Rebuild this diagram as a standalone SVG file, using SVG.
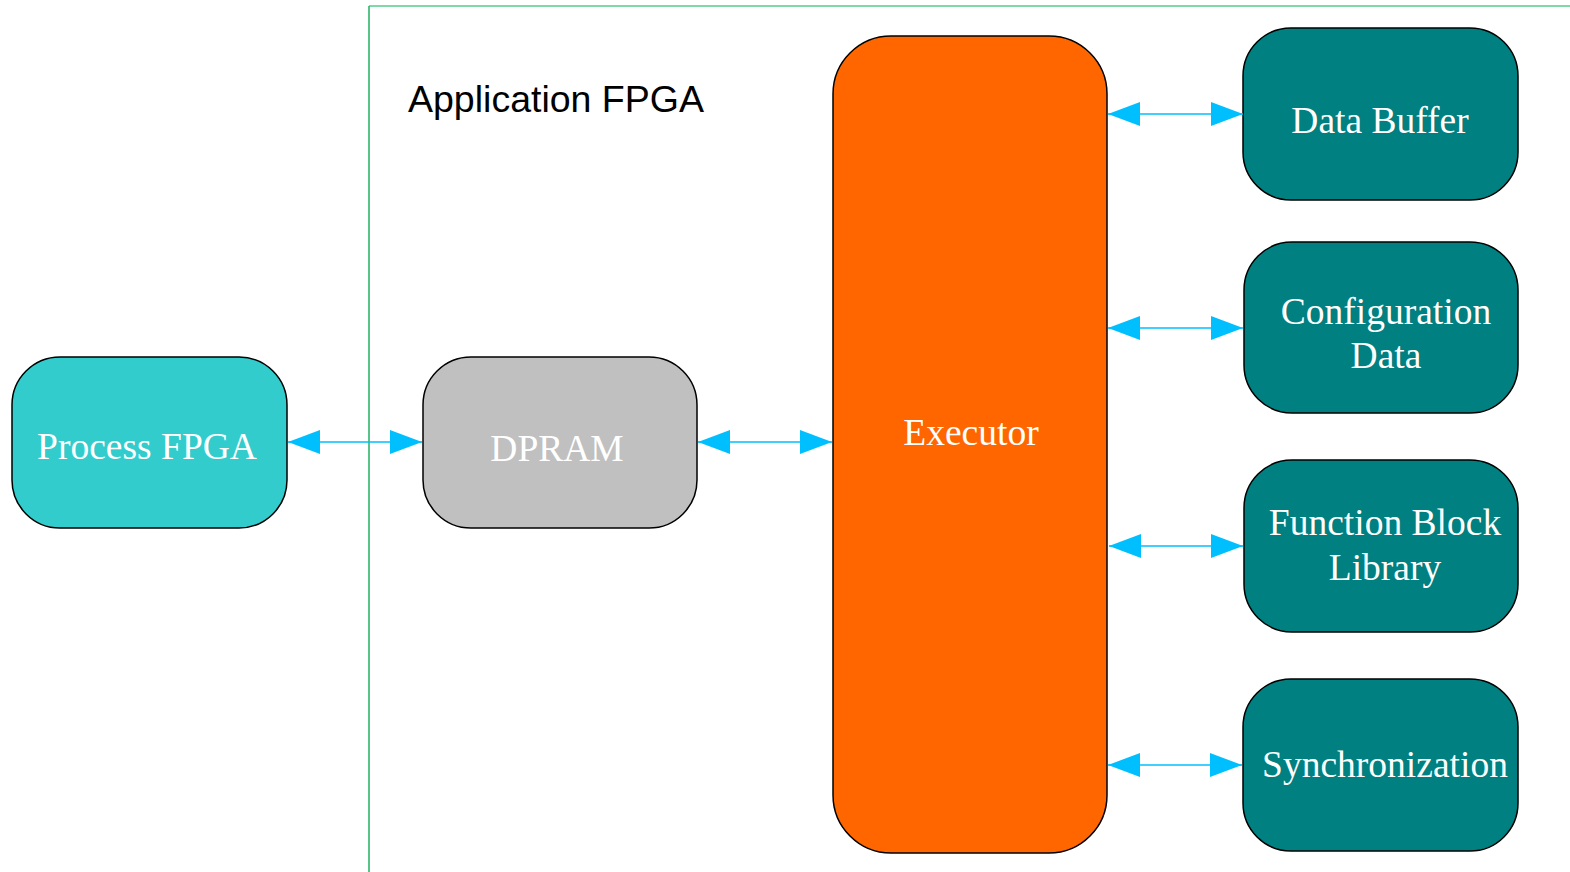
<svg xmlns="http://www.w3.org/2000/svg" width="1570" height="872" viewBox="0 0 1570 872">
  <defs>
    <style>
      .node { stroke: #000; stroke-width: 1.5; }
      .lbl { font-family: "Liberation Serif", "Times New Roman", serif; font-size: 37.5px; fill: #fff; text-anchor: middle; }
      .link { stroke: #00BFFF; stroke-width: 1.6; fill: none; marker-start: url(#head); marker-end: url(#head); }
    </style>
    <marker id="head" viewBox="0 0 32 24" refX="32" refY="12" markerWidth="32" markerHeight="24" markerUnits="userSpaceOnUse" orient="auto-start-reverse">
      <path d="M0,0 L32,12 L0,24 Z" fill="#00BFFF"/>
    </marker>
  </defs>
  <rect width="1570" height="872" fill="#fff"/>

  <!-- Application FPGA boundary -->
  <g id="application-fpga">
    <line x1="369" y1="6" x2="1570" y2="6" stroke="#7FD8A8" stroke-width="2"/>
    <line x1="369" y1="6" x2="369" y2="872" stroke="#22B061" stroke-width="1.5"/>
    <text x="408" y="112" font-family="Liberation Sans, Arial, sans-serif" font-size="37.5" fill="#000">Application FPGA</text>
  </g>

  <g id="process-fpga">
    <rect class="node" x="12" y="357" width="275" height="171" rx="48" fill="#33CCCC"/>
    <text class="lbl" x="147" y="459">Process FPGA</text>
  </g>

  <g id="dpram">
    <rect class="node" x="423" y="357" width="274" height="171" rx="48" fill="#C0C0C0"/>
    <text class="lbl" x="557" y="461" fill="#EFEFEF">DPRAM</text>
  </g>

  <g id="executor">
    <rect class="node" x="833" y="36" width="274" height="817" rx="58" fill="#FF6600"/>
    <text class="lbl" x="971" y="445">Executor</text>
  </g>

  <g id="data-buffer">
    <rect class="node" x="1243" y="28" width="275" height="172" rx="48" fill="#008080"/>
    <text class="lbl" x="1380" y="133">Data Buffer</text>
  </g>

  <g id="configuration-data">
    <rect class="node" x="1244" y="242" width="274" height="171" rx="48" fill="#008080"/>
    <text class="lbl" x="1386" y="324">Configuration</text>
    <text class="lbl" x="1386" y="368">Data</text>
  </g>

  <g id="function-block-library">
    <rect class="node" x="1244" y="460" width="274" height="172" rx="48" fill="#008080"/>
    <text class="lbl" x="1385" y="535">Function Block</text>
    <text class="lbl" x="1385" y="580">Library</text>
  </g>

  <g id="synchronization">
    <rect class="node" x="1243" y="679" width="275" height="172" rx="48" fill="#008080"/>
    <text class="lbl" x="1385" y="777">Synchronization</text>
  </g>

  <g id="connectors">
    <line class="link" x1="288" y1="442" x2="422" y2="442"/>
    <line class="link" x1="698" y1="442" x2="832" y2="442"/>
    <line class="link" x1="1108" y1="114" x2="1243" y2="114"/>
    <line class="link" x1="1108" y1="328" x2="1243" y2="328"/>
    <line class="link" x1="1109" y1="546" x2="1243" y2="546"/>
    <line class="link" x1="1108" y1="765" x2="1242" y2="765"/>
  </g>
</svg>
